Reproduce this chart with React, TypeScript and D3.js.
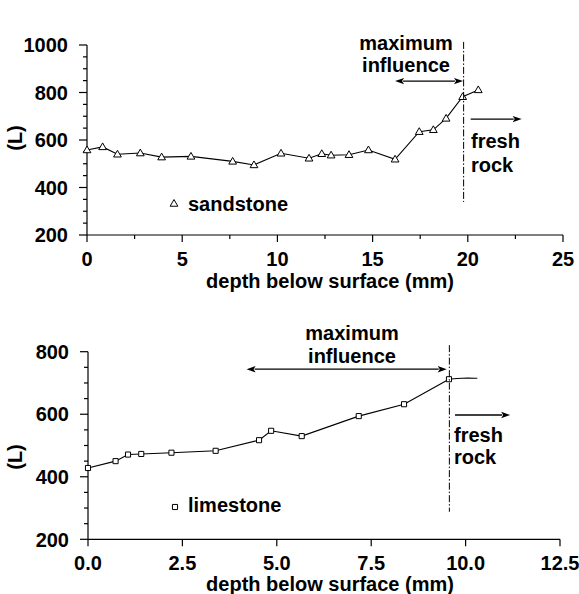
import React from "react";
import * as d3 from "d3";

// ---- data ----
const sandstoneDepth = [0, 0.82, 1.6, 2.8, 3.92, 5.46, 7.65, 8.77, 10.19, 11.66, 12.33, 12.82, 13.76, 14.78, 16.18, 17.45, 18.19, 18.86, 19.73, 20.55];
const sandstoneL = [558, 571, 540, 545, 528, 531, 510, 495, 544, 523, 542, 536, 538, 558, 519, 635, 643, 691, 782, 811];

const limestoneDepth = [0, 0.73, 1.06, 1.41, 2.21, 3.38, 4.53, 4.85, 5.66, 7.17, 8.37, 9.56];
const limestoneL = [428, 450, 471, 473, 477, 483, 517, 547, 530, 594, 632, 712];
const limestoneTailDepth = [9.56, 9.9, 10.31];
const limestoneTailL = [712, 716, 715];

const topXTicks = [0, 5, 10, 15, 20, 25];
const topYTicks = [200, 400, 600, 800, 1000];
const botXTicks = [0, 2.5, 5, 7.5, 10, 12.5];
const botYTicks = [200, 400, 600, 800];

const FONT = "'Liberation Sans', Arial, Helvetica, sans-serif";

type Panel = {
  xDomain: [number, number];
  yDomain: [number, number];
  xRange: [number, number];
  yRange: [number, number];
  xTicks: number[];
  xMinor: number[];
  yTicks: number[];
  yMinor: number[];
  xFmt: (v: number) => string;
};

function Axes({ p }: { p: Panel }) {
  const x = d3.scaleLinear().domain(p.xDomain).range(p.xRange);
  const y = d3.scaleLinear().domain(p.yDomain).range(p.yRange);
  const x0 = p.xRange[0];
  const y0 = p.yRange[0];
  return (
    <g stroke="#000" fill="none" strokeWidth={1.2}>
      <line x1={x0} x2={p.xRange[1]} y1={y0} y2={y0} />
      <line x1={x0} x2={x0} y1={y0} y2={p.yRange[1]} />
      {p.yTicks.map((v) => (
        <line key={"ym" + v} x1={x0 - 8} x2={x0} y1={y(v)} y2={y(v)} />
      ))}
      {p.yMinor.map((v) => (
        <line key={"yn" + v} x1={x0 - 4} x2={x0} y1={y(v)} y2={y(v)} />
      ))}
      {p.xTicks.map((v) => (
        <line key={"xm" + v} x1={x(v)} x2={x(v)} y1={y0} y2={y0 + 7} />
      ))}
      {p.xMinor.map((v) => (
        <line key={"xn" + v} x1={x(v)} x2={x(v)} y1={y0} y2={y0 + 4} />
      ))}
      <g stroke="none" fill="#000" fontFamily={FONT} fontWeight="bold" fontSize={20}>
        {p.yTicks.map((v) => (
          <text key={"yl" + v} x={x0 - 19} y={y(v)} dy="0.36em" textAnchor="end">
            {v}
          </text>
        ))}
        {p.xTicks.map((v) => (
          <text key={"xl" + v} x={x(v)} y={y0 + 30.5} textAnchor="middle">
            {p.xFmt(v)}
          </text>
        ))}
      </g>
    </g>
  );
}

function Arrow({ x1, x2, y, both }: { x1: number; x2: number; y: number; both?: boolean }) {
  const h = 9;
  const w = 3.2;
  return (
    <g>
      <line x1={both ? x1 + h - 1 : x1} x2={x2 - h + 1} y1={y} y2={y} stroke="#000" strokeWidth={1.3} />
      <path d={`M${x2},${y} L${x2 - h},${y - w} L${x2 - h + 2},${y} L${x2 - h},${y + w} Z`} fill="#000" />
      {both && <path d={`M${x1},${y} L${x1 + h},${y - w} L${x1 + h - 2},${y} L${x1 + h},${y + w} Z`} fill="#000" />}
    </g>
  );
}

export default function App() {
  const top: Panel = {
    xDomain: [0, 25],
    yDomain: [200, 1000],
    xRange: [87, 563],
    yRange: [235, 45],
    xTicks: topXTicks,
    xMinor: d3.range(2.5, 25, 5),
    yTicks: topYTicks,
    yMinor: d3.range(250, 1000, 50).filter((v) => v % 200 !== 0),
    xFmt: (v) => String(v),
  };
  const bot: Panel = {
    xDomain: [0, 12.5],
    yDomain: [200, 800],
    xRange: [88, 560],
    yRange: [539.3, 351.7],
    xTicks: botXTicks,
    xMinor: [],
    yTicks: botYTicks,
    yMinor: d3.range(250, 800, 50).filter((v) => v % 200 !== 0),
    xFmt: (v) => v.toFixed(1),
  };

  const tx = d3.scaleLinear().domain(top.xDomain).range(top.xRange);
  const ty = d3.scaleLinear().domain(top.yDomain).range(top.yRange);
  const bx = d3.scaleLinear().domain(bot.xDomain).range(bot.xRange);
  const by = d3.scaleLinear().domain(bot.yDomain).range(bot.yRange);

  const sand = sandstoneDepth.map((d, i) => [d, sandstoneL[i]] as [number, number]);
  const lime = limestoneDepth.map((d, i) => [d, limestoneL[i]] as [number, number]);
  const limeTail = limestoneTailDepth.map((d, i) => [d, limestoneTailL[i]] as [number, number]);

  const sandLine = d3.line<[number, number]>().x((d) => tx(d[0])).y((d) => ty(d[1]));
  const limeLine = d3.line<[number, number]>().x((d) => bx(d[0])).y((d) => by(d[1]));
  const tailLine = d3.line<[number, number]>().x((d) => bx(d[0])).y((d) => by(d[1])).curve(d3.curveBasis);

  const tri = d3.symbol().type(d3.symbolTriangle).size(26)() as string;
  const sq = d3.symbol().type(d3.symbolSquare).size(26)() as string;

  const textProps = { fontFamily: FONT, fontWeight: "bold" as const, fontSize: 20, fill: "#000" };

  return (
    <svg width={579} height={594} style={{ position: "absolute", left: 0, top: 0, background: "#fff" }}>
      <rect width={579} height={594} fill="#fff" />
      {/* ---------- top panel ---------- */}
      <Axes p={top} />
      <path d={sandLine(sand) || ""} fill="none" stroke="#000" strokeWidth={1.1} />
      {sand.map((d, i) => (
        <path key={"s" + i} d={tri} transform={`translate(${tx(d[0])},${ty(d[1]) + 0.5})`} fill="#fff" stroke="#000" strokeWidth={1} />
      ))}
      <line x1={tx(19.78)} x2={tx(19.78)} y1={ty(1013)} y2={ty(339)} stroke="#000" strokeWidth={1} strokeDasharray="7,2,1.5,2" />
      <Arrow x1={tx(16.18)} x2={tx(19.75)} y={ty(848)} both />
      <Arrow x1={tx(20.15)} x2={tx(22.83)} y={ty(688)} />
      <text {...textProps} x={406} y={50} textAnchor="middle">maximum</text>
      <text {...textProps} x={406} y={72} textAnchor="middle">influence</text>
      <text {...textProps} x={471} y={148}>fresh</text>
      <text {...textProps} x={471} y={172}>rock</text>
      <path d={tri} transform="translate(174,204)" fill="#fff" stroke="#000" strokeWidth={1} />
      <text {...textProps} x={188} y={211}>sandstone</text>
      <text {...textProps} x={330} y={287.5} textAnchor="middle">depth below surface (mm)</text>
      <text {...textProps} transform="translate(22,138) rotate(-90)" textAnchor="middle">(L)</text>

      {/* ---------- bottom panel ---------- */}
      <Axes p={bot} />
      <path d={limeLine(lime) || ""} fill="none" stroke="#000" strokeWidth={1.1} />
      <path d={tailLine(limeTail) || ""} fill="none" stroke="#000" strokeWidth={1.1} />
      {lime.map((d, i) => (
        <path key={"l" + i} d={sq} transform={`translate(${bx(d[0])},${by(d[1])})`} fill="#fff" stroke="#000" strokeWidth={1} />
      ))}
      <line x1={bx(9.57)} x2={bx(9.57)} y1={by(821)} y2={by(288)} stroke="#000" strokeWidth={1} strokeDasharray="7,2,1.5,2" />
      <Arrow x1={bx(4.2)} x2={bx(9.5)} y={by(744)} both />
      <Arrow x1={bx(9.72)} x2={bx(11.18)} y={by(597.5)} />
      <text {...textProps} x={352} y={340} textAnchor="middle">maximum</text>
      <text {...textProps} x={352} y={363} textAnchor="middle">influence</text>
      <text {...textProps} x={454} y={442}>fresh</text>
      <text {...textProps} x={454} y={464}>rock</text>
      <path d={sq} transform="translate(175,507)" fill="#fff" stroke="#000" strokeWidth={1} />
      <text {...textProps} x={188} y={512}>limestone</text>
      <text {...textProps} x={330} y={590.5} textAnchor="middle">depth below surface (mm)</text>
      <text {...textProps} transform="translate(22,457) rotate(-90)" textAnchor="middle">(L)</text>
    </svg>
  );
}
